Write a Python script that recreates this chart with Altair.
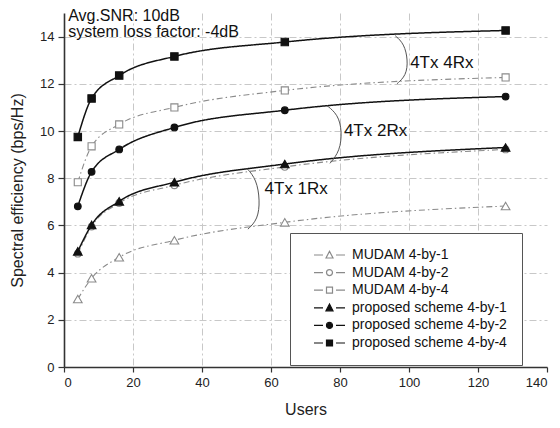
import altair as alt
import pandas as pd

# ---------------- data ----------------
users = [4, 8, 16, 32, 64, 128]
series_names = [
    "MUDAM 4-by-1", "MUDAM 4-by-2", "MUDAM 4-by-4",
    "proposed scheme 4-by-1", "proposed scheme 4-by-2", "proposed scheme 4-by-4",
]
mudam_4x1 = [2.88, 3.76, 4.65, 5.37, 6.13, 6.82]
mudam_4x2 = [4.80, 5.95, 6.95, 7.70, 8.48, 9.22]
mudam_4x4 = [7.83, 9.35, 10.28, 11.00, 11.72, 12.27]
prop_4x1 = [4.90, 6.02, 7.02, 7.83, 8.60, 9.30]
prop_4x2 = [6.81, 8.27, 9.22, 10.15, 10.88, 11.46]
prop_4x4 = [9.75, 11.38, 12.35, 13.16, 13.77, 14.26]
series_values = [mudam_4x1, mudam_4x2, mudam_4x4, prop_4x1, prop_4x2, prop_4x4]

info_lines = ["Avg.SNR: 10dB", "system loss factor: -4dB"]
info_x = [1.2, 1.2]
info_y = [14.66, 13.98]

brace_labels = ["4Tx 4Rx", "4Tx 2Rx", "4Tx 1Rx"]
brace_label_x = [109.5, 90.3, 67.3]
brace_label_y = [12.9, 10.0, 7.55]
# brace curves (x, y) points in data units
brace_x = [
    [96.0, 98.6, 99.7, 99.2, 96.5],
    [76.2, 79.4, 80.6, 80.0, 77.1],
    [53.0, 55.8, 56.8, 56.2, 53.3],
]
brace_y = [
    [14.04, 13.70, 13.00, 12.35, 12.00],
    [11.08, 10.70, 10.00, 9.15, 8.63],
    [8.42, 7.95, 7.06, 6.25, 5.84],
]

# ---------------- tables ----------------
rows = []
for name, vals in zip(series_names, series_values):
    for u, v in zip(users, vals):
        rows.append({"series": name, "users": u, "value": v})
df = pd.DataFrame(rows)

brows = []
for i, (bx, by) in enumerate(zip(brace_x, brace_y)):
    for k, (x, y) in enumerate(zip(bx, by)):
        brows.append({"brace": i, "ord": k, "x": x, "y": y})
bdf = pd.DataFrame(brows)

ldf = pd.DataFrame({"label": brace_labels, "x": brace_label_x, "y": brace_label_y})
idf = pd.DataFrame({"t": info_lines, "x": info_x, "y": info_y})

# ---------------- styles ----------------
FONT = "Liberation Sans"
GRAY = "#8a8a8a"
DARK = "#111111"
line_colors = [GRAY] * 3 + [DARK] * 3
fill_colors = ["#ffffff"] * 3 + [DARK] * 3
dashes = [[6, 3, 1.5, 3]] * 3 + [[1, 0]] * 3
widths = [1.1] * 3 + [1.5] * 3
shapes = ["triangle-up", "circle", "square"] * 2
sizes = [75, 45, 50, 75, 45, 55]
# legend glyphs "—marker—", drawn left of the nominal symbol box
STUBS = "M-5.2,0L-3.4,0M-0.8,0L1,0"
legend_paths = [
    STUBS + "M-2.8,0.6L-2.1,-0.75L-1.4,0.6Z",
    STUBS + "M-2.7,0A0.6,0.6 0 1,0 -1.5,0A0.6,0.6 0 1,0 -2.7,0Z",
    STUBS + "M-2.7,-0.6L-1.5,-0.6L-1.5,0.6L-2.7,0.6Z",
] * 2

xs = alt.Scale(domain=[0, 140], nice=False, zero=False)
ys = alt.Scale(domain=[0, 15], nice=False)

x_axis = alt.Axis(
    values=list(range(0, 141, 10)), title="Users",
    labelExpr="datum.value % 20 === 0 ? datum.label : ''",
    gridOpacity={"condition": {"test": "datum.value % 20 === 0 && datum.value > 0 && datum.value < 140", "value": 1}, "value": 0},
    tickSize=5, titlePadding=12,
)
y_axis = alt.Axis(
    values=list(range(0, 16)), title="Spectral efficiency (bps/Hz)",
    labelExpr="datum.value % 2 === 0 ? datum.label : ''",
    gridOpacity={"condition": {"test": "datum.value % 2 === 0 && datum.value > 0", "value": 1}, "value": 0},
    tickSize={"condition": {"test": "datum.value % 2 === 0", "value": 6}, "value": 3},
    titlePadding=14,
)

layers = []
# axis carrier (invisible)
layers.append(
    alt.Chart(df).mark_point(opacity=0).encode(
        x=alt.X("users:Q", scale=xs, axis=x_axis),
        y=alt.Y("value:Q", scale=ys, axis=y_axis),
    )
)
for name, col, fil, dsh, wd, shp, sz in zip(series_names, line_colors, fill_colors, dashes, widths, shapes, sizes):
    sub = alt.Chart(df).transform_filter(alt.datum.series == name)
    layers.append(
        sub.mark_line(interpolate="monotone", color=col, strokeDash=dsh, strokeWidth=wd).encode(
            x="users:Q", y="value:Q"
        )
    )
    layers.append(
        sub.mark_point(shape=shp, size=sz, color=col, fill=fil, filled=False, opacity=1, strokeWidth=1.1).encode(
            x="users:Q", y="value:Q"
        )
    )

layers.append(
    alt.Chart(bdf).mark_line(interpolate="basis", color="#555", strokeWidth=1).encode(
        x="x:Q", y="y:Q", detail="brace:N", order="ord:Q"
    )
)
layers.append(
    alt.Chart(ldf).mark_text(align="center", baseline="middle", font=FONT, fontSize=17, color=DARK).encode(
        x="x:Q", y="y:Q", text="label:N"
    )
)
layers.append(
    alt.Chart(idf).mark_text(align="left", baseline="alphabetic", font=FONT, fontSize=16, color=DARK).encode(
        x="x:Q", y="y:Q", text="t:N"
    )
)

# legend carrier: invisible marks, visible legend
layers.append(
    alt.Chart(df).mark_point(opacity=0, filled=True).encode(
        x="users:Q", y="value:Q",
        shape=alt.Shape("series:N", scale=alt.Scale(domain=series_names, range=legend_paths),
                        legend=alt.Legend(
                            title=None, orient="none", legendX=226, legendY=220,
                            symbolSize=100, symbolStrokeWidth=1.2, symbolOpacity=1,
                            labelFont=FONT, labelFontSize=14, labelColor=DARK,
                            labelExpr="datum.label + '\u00a0\u00a0'",
                            rowPadding=3.6, padding=15, strokeColor="#555", fillColor="#ffffff",
                            symbolOffset=28, labelOffset=5,
                        )),
        stroke=alt.Stroke("series:N", scale=alt.Scale(domain=series_names, range=line_colors)),
        fill=alt.Fill("series:N", scale=alt.Scale(domain=series_names, range=fill_colors)),
    )
)

chart = alt.layer(*layers).properties(
    width=483, height=354,
    padding={"left": 56, "top": 5, "right": 5, "bottom": 53},
    autosize=alt.AutoSizeParams(type="none"),
).configure_view(stroke=None).configure_axis(
    labelFont=FONT, labelFontSize=13, labelColor="#222",
    titleFont=FONT, titleFontSize=16, titleFontWeight="normal", titleColor="#222",
    domainColor="#333", domainWidth=1.6, tickColor="#333", tickWidth=1.2,
    gridColor="#c8c8c8", gridDash=[7, 3, 2, 3], gridWidth=1, labelPadding=4,
)

chart.save("out.html", embed_options={"renderer": "svg", "actions": False})
